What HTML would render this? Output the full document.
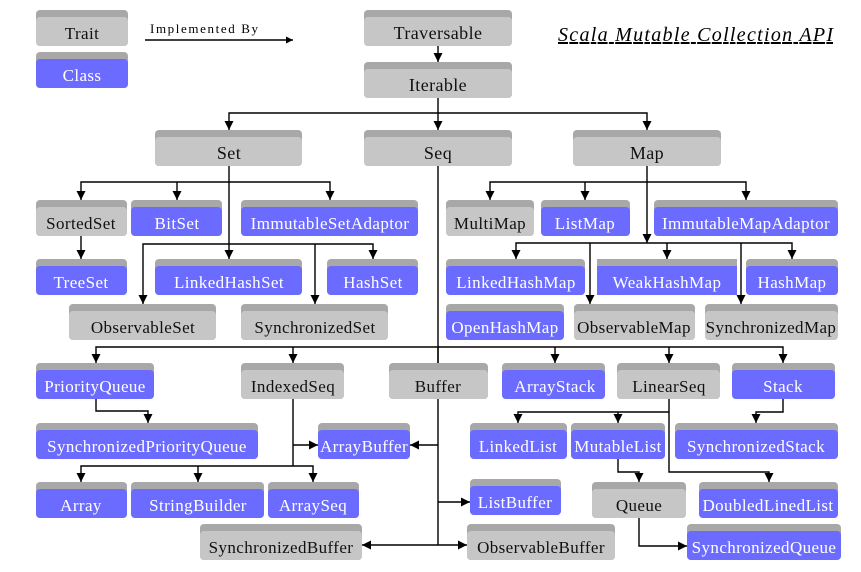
<!DOCTYPE html>
<html><head><meta charset="utf-8"><style>
html,body{margin:0;padding:0;background:#fff;}
svg{display:block;font-family:"Liberation Serif",serif;}
.g .b{fill:#c6c6c6}.c .b{fill:#6b6bff}
.t{fill:#a8a8a8}
.g text{fill:#111}.c text{fill:#fff}
text{font-size:17px;letter-spacing:0.4px;text-anchor:middle}
.l{stroke:#000;stroke-width:1.4;fill:none}
</style></head><body>
<svg width="861" height="572" viewBox="0 0 861 572">
<defs><marker id="a" viewBox="0 0 10 10" refX="10" refY="5" markerWidth="9" markerHeight="9" orient="auto" markerUnits="userSpaceOnUse"><path d="M0,0L10,5L0,10z" fill="#000"/></marker>
<marker id="s" viewBox="0 0 10 10" refX="10" refY="5" markerWidth="8" markerHeight="7" orient="auto" markerUnits="userSpaceOnUse"><path d="M0,0L10,5L0,10z" fill="#000"/></marker></defs>

<g class="l" marker-end="url(#a)">
<path d="M145,40H293" marker-end="url(#s)"/>
<path d="M438,46V62"/>
<path d="M438,97V113H229V130"/><path d="M438,113V130"/><path d="M438,113H647V130"/>
<path d="M229,166V259"/>
<path d="M229,182H81V200"/><path d="M177,182V200"/><path d="M229,182H330V200"/>
<path d="M81,236V259"/>
<path d="M229,244H143V304"/><path d="M229,244H373V259"/><path d="M315,244V304"/>
<path d="M647,166V243"/>
<path d="M647,182H490V200"/><path d="M585,182V200"/><path d="M647,182H746V200"/>
<path d="M647,243H516V259"/><path d="M590,243V304"/><path d="M667,243V259"/><path d="M741,243V304"/><path d="M647,243H792V259"/>
<path d="M438,166V545" marker-end="none"/>
<path d="M438,347H96V363"/><path d="M293,347V363"/><path d="M438,347V363" marker-end="none"/>
<path d="M438,347H783V363"/><path d="M555,347V363"/><path d="M669,347V363"/>
<path d="M96,399V411H148V423"/>
<path d="M293,399V466"  marker-end="none"/><path d="M293,445H318"/>
<path d="M293,466H81V482"/><path d="M198,466V482"/><path d="M293,466H313V482"/>
<path d="M438,445H410"/><path d="M438,502H470"/><path d="M438,545H467"/><path d="M438,545H362"/>
<path d="M669,399V412H518V423"/><path d="M618,412V423"/>
<path d="M669,412V472H769V482"/>
<path d="M783,399V412H756V423"/>
<path d="M618,459V472H639V482"/>
<path d="M639,518V546H687"/>
</g>

<text x="150" y="33" textLength="108" style="font-size:13px;text-anchor:start;fill:#000;letter-spacing:0">Implemented By</text>
<text x="558" y="41" textLength="275" style="font-size:20px;font-style:italic;text-decoration:underline;fill:#000;text-anchor:start;letter-spacing:0">Scala Mutable Collection API</text>

<g class="g"><rect class="t" x="36" y="10" width="92" height="36" rx="4"/><rect class="b" x="36" y="17" width="92" height="29" rx="4"/><text x="82" y="39">Trait</text></g>
<g class="c"><rect class="t" x="36" y="52" width="92" height="36" rx="4"/><rect class="b" x="36" y="59" width="92" height="29" rx="4"/><text x="82" y="81">Class</text></g>

<g class="g"><rect class="t" x="364" y="10" width="148" height="36" rx="4"/><rect class="b" x="364" y="17" width="148" height="29" rx="4"/><text x="438" y="39" style="font-size:18px">Traversable</text></g>
<g class="g"><rect class="t" x="364" y="62" width="148" height="36" rx="4"/><rect class="b" x="364" y="69" width="148" height="29" rx="4"/><text x="438" y="91" style="font-size:18px">Iterable</text></g>
<g class="g"><rect class="t" x="155" y="130" width="147" height="36" rx="4"/><rect class="b" x="155" y="137" width="147" height="29" rx="4"/><text x="229" y="159" style="font-size:18px">Set</text></g>
<g class="g"><rect class="t" x="364" y="130" width="148" height="36" rx="4"/><rect class="b" x="364" y="137" width="148" height="29" rx="4"/><text x="438" y="159" style="font-size:18px">Seq</text></g>
<g class="g"><rect class="t" x="573" y="130" width="148" height="36" rx="4"/><rect class="b" x="573" y="137" width="148" height="29" rx="4"/><text x="647" y="159" style="font-size:18px">Map</text></g>

<g class="g"><rect class="t" x="36" y="200" width="91" height="36" rx="4"/><rect class="b" x="36" y="207" width="91" height="29" rx="4"/><text x="81" y="229">SortedSet</text></g>
<g class="c"><rect class="t" x="131" y="200" width="91" height="36" rx="4"/><rect class="b" x="131" y="207" width="91" height="29" rx="4"/><text x="177" y="229">BitSet</text></g>
<g class="c"><rect class="t" x="241" y="200" width="177" height="36" rx="4"/><rect class="b" x="241" y="207" width="177" height="29" rx="4"/><text x="330" y="229">ImmutableSetAdaptor</text></g>
<g class="c"><rect class="t" x="36" y="259" width="91" height="36" rx="4"/><rect class="b" x="36" y="266" width="91" height="29" rx="4"/><text x="81" y="288">TreeSet</text></g>
<g class="c"><rect class="t" x="155" y="259" width="147" height="36" rx="4"/><rect class="b" x="155" y="266" width="147" height="29" rx="4"/><text x="229" y="288">LinkedHashSet</text></g>
<g class="c"><rect class="t" x="327" y="259" width="91" height="36" rx="4"/><rect class="b" x="327" y="266" width="91" height="29" rx="4"/><text x="373" y="288">HashSet</text></g>
<g class="g"><rect class="t" x="69" y="304" width="147" height="36" rx="4"/><rect class="b" x="69" y="311" width="147" height="29" rx="4"/><text x="143" y="333">ObservableSet</text></g>
<g class="g"><rect class="t" x="241" y="304" width="147" height="36" rx="4"/><rect class="b" x="241" y="311" width="147" height="29" rx="4"/><text x="315" y="333">SynchronizedSet</text></g>

<g class="g"><rect class="t" x="446" y="200" width="88" height="36" rx="4"/><rect class="b" x="446" y="207" width="88" height="29" rx="4"/><text x="490" y="229">MultiMap</text></g>
<g class="c"><rect class="t" x="541" y="200" width="89" height="36" rx="4"/><rect class="b" x="541" y="207" width="89" height="29" rx="4"/><text x="585" y="229">ListMap</text></g>
<g class="c"><rect class="t" x="654" y="200" width="184" height="36" rx="4"/><rect class="b" x="654" y="207" width="184" height="29" rx="4"/><text x="746" y="229">ImmutableMapAdaptor</text></g>
<g class="c"><rect class="t" x="446" y="259" width="139" height="36" rx="4"/><rect class="b" x="446" y="266" width="139" height="29" rx="4"/><text x="516" y="288">LinkedHashMap</text></g>
<g class="c"><rect class="t" x="597" y="259" width="140" height="36"/><rect class="b" x="597" y="266" width="140" height="29"/><text x="667" y="288">WeakHashMap</text></g>
<g class="c"><rect class="t" x="746" y="259" width="92" height="36" rx="4"/><rect class="b" x="746" y="266" width="92" height="29" rx="4"/><text x="792" y="288">HashMap</text></g>
<g class="c"><rect class="t" x="446" y="304" width="118" height="36" rx="4"/><rect class="b" x="446" y="311" width="118" height="29" rx="4"/><text x="505" y="333">OpenHashMap</text></g>
<g class="g"><rect class="t" x="574" y="304" width="121" height="36" rx="4"/><rect class="b" x="574" y="311" width="121" height="29" rx="4"/><text x="634" y="333">ObservableMap</text></g>
<g class="g"><rect class="t" x="705" y="304" width="133" height="36" rx="4"/><rect class="b" x="705" y="311" width="133" height="29" rx="4"/><text x="771" y="333">SynchronizedMap</text></g>

<g class="c"><rect class="t" x="36" y="363" width="118" height="36" rx="4"/><rect class="b" x="36" y="370" width="118" height="29" rx="4"/><text x="95" y="392">PriorityQueue</text></g>
<g class="g"><rect class="t" x="241" y="363" width="103" height="36" rx="4"/><rect class="b" x="241" y="370" width="103" height="29" rx="4"/><text x="293" y="392">IndexedSeq</text></g>
<g class="g"><rect class="t" x="389" y="363" width="99" height="36" rx="4"/><rect class="b" x="389" y="370" width="99" height="29" rx="4"/><text x="438" y="392">Buffer</text></g>
<g class="c"><rect class="t" x="502" y="363" width="103" height="36" rx="4"/><rect class="b" x="502" y="370" width="103" height="29" rx="4"/><text x="555" y="392">ArrayStack</text></g>
<g class="g"><rect class="t" x="617" y="363" width="103" height="36" rx="4"/><rect class="b" x="617" y="370" width="103" height="29" rx="4"/><text x="669" y="392">LinearSeq</text></g>
<g class="c"><rect class="t" x="732" y="363" width="103" height="36" rx="4"/><rect class="b" x="732" y="370" width="103" height="29" rx="4"/><text x="783" y="392">Stack</text></g>

<g class="c"><rect class="t" x="36" y="423" width="222" height="36" rx="4"/><rect class="b" x="36" y="430" width="222" height="29" rx="4"/><text x="147" y="452">SynchronizedPriorityQueue</text></g>
<g class="c"><rect class="t" x="318" y="423" width="92" height="36" rx="4"/><rect class="b" x="318" y="430" width="92" height="29" rx="4"/><text x="364" y="452">ArrayBuffer</text></g>
<g class="c"><rect class="t" x="470" y="423" width="97" height="36" rx="4"/><rect class="b" x="470" y="430" width="97" height="29" rx="4"/><text x="518" y="452">LinkedList</text></g>
<g class="c"><rect class="t" x="571" y="423" width="94" height="36" rx="4"/><rect class="b" x="571" y="430" width="94" height="29" rx="4"/><text x="618" y="452">MutableList</text></g>
<g class="c"><rect class="t" x="675" y="423" width="163" height="36" rx="4"/><rect class="b" x="675" y="430" width="163" height="29" rx="4"/><text x="756" y="452">SynchronizedStack</text></g>

<g class="c"><rect class="t" x="36" y="482" width="91" height="36" rx="4"/><rect class="b" x="36" y="489" width="91" height="29" rx="4"/><text x="81" y="511">Array</text></g>
<g class="c"><rect class="t" x="131" y="482" width="133" height="36" rx="4"/><rect class="b" x="131" y="489" width="133" height="29" rx="4"/><text x="198" y="511">StringBuilder</text></g>
<g class="c"><rect class="t" x="268" y="482" width="91" height="36" rx="4"/><rect class="b" x="268" y="489" width="91" height="29" rx="4"/><text x="313" y="511">ArraySeq</text></g>
<g class="c"><rect class="t" x="470" y="479" width="91" height="36" rx="4"/><rect class="b" x="470" y="486" width="91" height="29" rx="4"/><text x="515" y="508">ListBuffer</text></g>
<g class="g"><rect class="t" x="592" y="482" width="94" height="36" rx="4"/><rect class="b" x="592" y="489" width="94" height="29" rx="4"/><text x="639" y="511">Queue</text></g>
<g class="c"><rect class="t" x="699" y="482" width="139" height="36" rx="4"/><rect class="b" x="699" y="489" width="139" height="29" rx="4"/><text x="768" y="511">DoubledLinedList</text></g>

<g class="g"><rect class="t" x="200" y="524" width="162" height="36" rx="4"/><rect class="b" x="200" y="531" width="162" height="29" rx="4"/><text x="281" y="553">SynchronizedBuffer</text></g>
<g class="g"><rect class="t" x="467" y="524" width="148" height="36" rx="4"/><rect class="b" x="467" y="531" width="148" height="29" rx="4"/><text x="541" y="553">ObservableBuffer</text></g>
<g class="c"><rect class="t" x="687" y="524" width="154" height="36" rx="4"/><rect class="b" x="687" y="531" width="154" height="29" rx="4"/><text x="764" y="553">SynchronizedQueue</text></g>
</svg>
</body></html>
